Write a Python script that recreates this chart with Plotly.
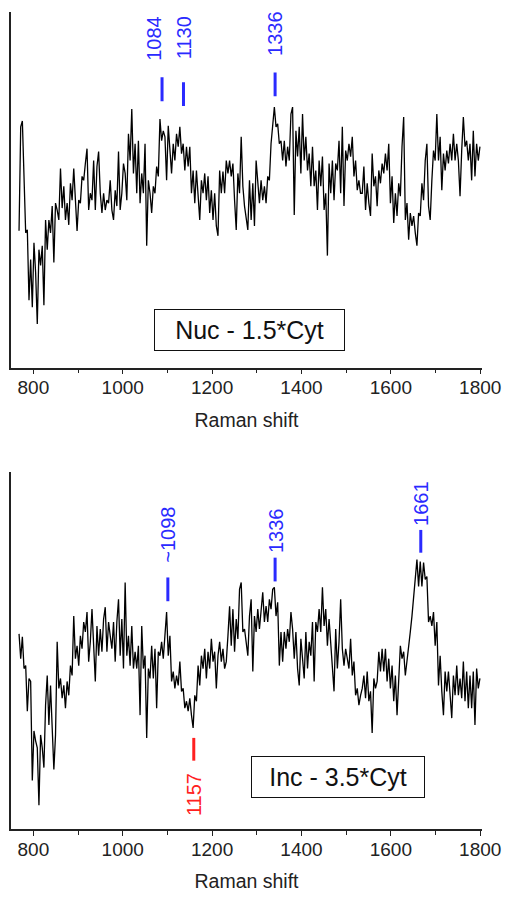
import plotly.graph_objects as go

# ---- data (arbitrary intensity units) ----
intensity_nuc = [
    138, 243, 249, 186, 136, 139, 68, 109, 61, 126,
    96, 44, 119, 103, 123, 63, 149, 119, 149, 136,
    163, 106, 166, 159, 149, 201, 161, 183, 149, 166,
    144, 186, 169, 201, 163, 138, 169, 166, 193, 189,
    206, 221, 159, 176, 169, 209, 159, 203, 218, 176,
    156, 176, 159, 169, 166, 189, 159, 149, 179, 163,
    218, 159, 176, 206, 196, 169, 236, 209, 261,
    196, 226, 176, 229, 166, 196, 176, 226, 123, 189,
    176, 156, 183, 176, 203, 193, 251, 229, 239, 233,
    189, 244, 213, 196, 226, 209, 236, 223, 243, 216,
    226, 199, 223, 203, 223, 176, 199, 166, 199, 169,
    149, 189, 176, 196, 169, 193, 156, 179, 149, 176,
    143, 133, 199, 176, 198, 176, 209, 196, 209, 193,
    206, 169, 139, 196, 176, 233, 183, 163, 149,
    139, 189, 149, 186, 143, 209, 186, 166, 189, 169,
    183, 166, 193, 189, 226, 243, 263, 243, 246, 226,
    229, 209, 229, 203, 223, 209, 256, 263, 154, 239,
    213, 243, 196, 256, 209, 233, 199, 216, 183, 223,
    183, 199, 159, 209, 183, 213, 159, 176, 113, 206,
    176, 209, 169, 206, 199, 229, 176, 243, 163, 219,
    209, 226, 213, 233, 193, 209, 179, 189, 176,
    176, 203, 159, 186, 166, 153, 216, 183, 193, 163,
    199, 186, 206, 196, 216, 199, 226, 166, 193, 146,
    176, 153, 186, 173, 223, 253, 149, 166, 129, 156,
    143, 153, 136, 123, 156, 153, 186, 169, 209, 226,
    163, 149, 189, 219, 209, 256, 209, 233, 179, 216,
    199, 219, 206, 226, 209, 236, 209, 226, 209, 173,
    219, 253, 223, 229, 209, 226, 189, 239, 193, 226,
    209, 223,
]

intensity_inc = [
    197, 172, 194, 162, 165, 119, 152, 149, 49, 99,
    89, 82, 24, 95, 82, 62, 125, 155, 105, 145,
    102, 60, 95, 189, 142, 152, 132, 145, 122, 149,
    135, 165, 155, 215, 172, 185, 165, 195, 182, 209,
    199, 219, 169, 189, 222, 175, 149, 205, 175, 202,
    179, 212, 224, 179, 209, 195, 182, 209, 169, 209,
    232, 175, 212, 162, 249, 175, 195, 165, 205,
    162, 179, 162, 185, 115, 205, 162, 175, 92, 162,
    152, 185, 152, 182, 122, 179, 175, 189, 172, 202,
    219, 175, 195, 149, 159, 142, 155, 145, 169, 139,
    142, 122, 129, 119, 132, 115, 102, 135, 129, 165,
    145, 175, 162, 182, 152, 179, 162, 192, 169, 179,
    142, 175, 189, 169, 182, 162, 169, 195, 225, 185,
    222, 179, 212, 192, 242, 249, 199, 202, 189,
    175, 215, 232, 159, 215, 199, 222, 202, 225, 239,
    209, 225, 209, 232, 222, 242, 244, 215, 229, 165,
    199, 169, 199, 182, 202, 189, 219, 202, 172, 199,
    162, 145, 192, 172, 152, 199, 162, 189, 175, 209,
    149, 209, 199, 222, 199, 244, 205, 222, 185, 212,
    185, 159, 139, 202, 162, 189, 232, 182, 165, 182,
    172, 162, 192, 155, 169, 135, 142, 125, 135,
    142, 155, 132, 159, 129, 139, 97, 152, 142, 149,
    179, 159, 182, 159, 182, 149, 172, 142, 165, 129,
    155, 115, 152, 185, 172, 179, 155, 172, 182, 199,
    215, 232, 249, 272, 245, 270, 245, 269, 252, 255,
    209, 215, 205, 219, 185, 209, 145, 175, 139, 115,
    159, 139, 159, 135, 112, 155, 135, 165, 135, 152,
    132, 169, 129, 159, 122, 155, 122, 159, 105, 162,
    142, 152,
]

# uniform Raman-shift sampling grid of the spectra
shift_start = 768.0
shift_step = 3.71
raman_shift = [round(shift_start + shift_step * i, 2) for i in range(len(intensity_nuc))]

x_tick_values = [800, 1000, 1200, 1400, 1600, 1800]
x_tick_labels = ["800", "1000", "1200", "1400", "1600", "1800"]

# peak marks: position, label text, marker bottom/top, label centre (intensity units)
nuc_peak_pos = [1088, 1136, 1341]
nuc_peak_text = ["1084", "1130", "1336"]
nuc_mark_lo = [269, 264, 274]
nuc_mark_hi = [293, 288, 298]
nuc_label_y = [332, 333, 337]
nuc_label_shift = [-8, 0, 0]
nuc_peak_color = ["#2a2aff", "#2a2aff", "#2a2aff"]

inc_peak_pos = [1101, 1159, 1341, 1667]
inc_peak_text = ["~1098", "1157", "1336", "1661"]
inc_mark_lo = [230, 69, 250, 279]
inc_mark_hi = [254, 92, 274, 302]
inc_label_y = [297, 35, 301, 329]
inc_label_shift = [0, 1, 1, 0]
inc_peak_color = ["#2a2aff", "#ff2020", "#2a2aff", "#2a2aff"]

panel_titles = ["Nuc - 1.5*Cyt", "Inc - 3.5*Cyt"]

FONT = "Liberation Sans, Arial, sans-serif"
AX = "#222222"

fig = go.Figure()
fig.add_trace(go.Scatter(x=raman_shift, y=intensity_nuc, mode="lines",
                         line=dict(color="black", width=1.3), xaxis="x", yaxis="y",
                         showlegend=False, hoverinfo="skip"))
fig.add_trace(go.Scatter(x=raman_shift, y=intensity_inc, mode="lines",
                         line=dict(color="black", width=1.3), xaxis="x2", yaxis="y2",
                         showlegend=False, hoverinfo="skip"))

def xaxis_cfg(anchor):
    return dict(range=[750, 1804], anchor=anchor, showline=True, linecolor=AX, linewidth=1.5,
                ticks="outside", ticklen=5, tickwidth=1.2, tickcolor=AX,
                tickvals=x_tick_values, ticktext=x_tick_labels, ticklabelstandoff=-3,
                ticklabeloverflow="allow",
                minor=dict(dtick=100, tick0=800, ticks="outside", ticklen=4, tickcolor=AX, tickwidth=1.2),
                showgrid=False, zeroline=False,
                tickfont=dict(family=FONT, size=19, color=AX),
                title=dict(text="Raman shift", font=dict(family=FONT, size=19.5, color=AX), standoff=16))

def yaxis_cfg(anchor, domain, rng):
    return dict(domain=domain, range=rng, anchor=anchor, showline=True, linecolor=AX, linewidth=1.5,
                ticks="", showticklabels=False, showgrid=False, zeroline=False)

# plot areas (page px): x 11-488, top y 12-371, bottom y 477-837
W, H = 512, 900
mt, mb = 12, 63
paper_h = H - mt - mb
top_lo = (H - mb - 371) / paper_h
bot_hi = (H - mb - 477) / paper_h

fig.update_layout(
    width=W, height=H,
    margin=dict(l=11, r=24, t=mt, b=mb),
    paper_bgcolor="white", plot_bgcolor="white",
    xaxis=xaxis_cfg("y"),
    yaxis=yaxis_cfg("x", [top_lo, 1.0], [0, 359]),
    xaxis2=xaxis_cfg("y2"),
    yaxis2=yaxis_cfg("x2", [0.0, bot_hi], [0, 360]),
    showlegend=False,
)

def add_marks(xref, yref, pos, text, lo, hi, ly, shift, colors):
    for p, t, a, b, c, s, col in zip(pos, text, lo, hi, ly, shift, colors):
        fig.add_shape(type="line", xref=xref, yref=yref, x0=p, x1=p, y0=a, y1=b,
                      line=dict(color=col, width=3))
        fig.add_annotation(xref=xref, yref=yref, x=p, y=c, text=t, textangle=-90,
                           showarrow=False, xanchor="center", yanchor="middle", xshift=s,
                           font=dict(family=FONT, size=20, color=col))

add_marks("x", "y", nuc_peak_pos, nuc_peak_text, nuc_mark_lo, nuc_mark_hi,
          nuc_label_y, nuc_label_shift, nuc_peak_color)
add_marks("x2", "y2", inc_peak_pos, inc_peak_text, inc_mark_lo, inc_mark_hi,
          inc_label_y, inc_label_shift, inc_peak_color)

fig.add_annotation(xref="x", yref="y", x=1284, y=38, text=panel_titles[0], showarrow=False,
                   font=dict(family=FONT, size=25, color="#111"), bordercolor="#111",
                   borderwidth=1, borderpad=0, width=189, height=40, bgcolor="white")
fig.add_annotation(xref="x2", yref="y2", x=1481, y=53, text=panel_titles[1], showarrow=False,
                   font=dict(family=FONT, size=25, color="#111"), bordercolor="#111",
                   borderwidth=1, borderpad=0, width=172, height=40, bgcolor="white")

# remove the browser's default 8px page margin so the figure fills the window exactly
fig.write_html("out.html", config={"displayModeBar": False},
               post_script="document.body.style.margin='0';document.body.style.overflow='hidden';")
